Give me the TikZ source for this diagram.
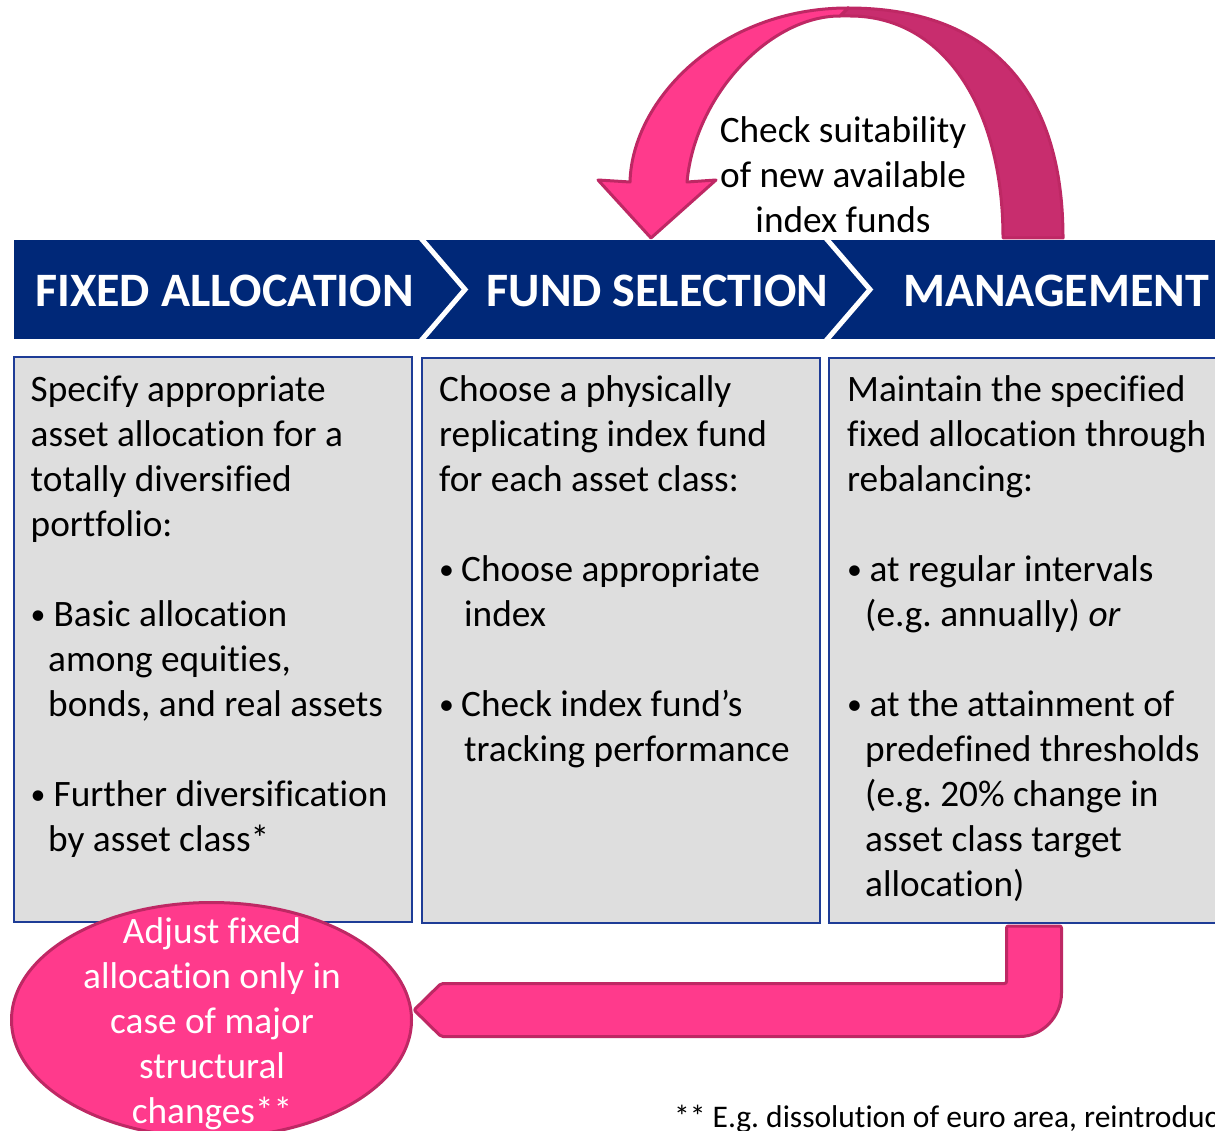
\documentclass[tikz,border=0pt]{standalone}
\usepackage{fontspec}
\usepackage{graphicx}
\setmainfont{Carlito}[Ligatures=CommonOff]
\usetikzlibrary{shapes.geometric}
\definecolor{navy}{RGB}{0,40,120}
\definecolor{boxgray}{RGB}{222,222,222}
\definecolor{boxline}{RGB}{30,60,150}
\definecolor{pinkfill}{RGB}{255,58,140}
\definecolor{pinkdark}{RGB}{200,45,110}
\definecolor{pinkline}{RGB}{190,40,100}
\newcommand\bodyfs{\fontsize{37.3}{45}\selectfont\frenchspacing}
\newcommand\titlefs{\fontsize{48}{58}\selectfont\bfseries}
\newcommand\notefs{\fontsize{31.5}{38}\selectfont\frenchspacing}
\newcommand\bul[1]{\makebox[#1][l]{\raisebox{1.5pt}{\scalebox{0.8}{•}}}}
\begin{document}
\begin{tikzpicture}[x=1pt,y=-1pt,
  panel/.style={draw=boxline, line width=2pt, fill=boxgray, inner sep=0pt, anchor=north west},
  bodytext/.style={anchor=base west, inner sep=0pt, font=\bodyfs, text=black},
  titletext/.style={anchor=base, inner sep=0pt, font=\titlefs, text=white},
  pinkshape/.style={fill=pinkfill, draw=pinkline, line width=3pt, line join=round},
  chevron/.style={draw=white, line width=5pt, line join=miter},
]
\useasboundingbox (0,0) rectangle (1215,1131);
\clip (0,0) rectangle (1215,1131);

% top curved arrow (back part, then front part)
\draw[pinkshape, fill=pinkdark] (1063,238) .. controls (1063,88) and (988,8) .. (848,8)
   -- (840,16) -- (850,16) .. controls (942,16) and (1003,105) .. (1003,238) -- cycle;
\draw[pinkshape] (848,8) .. controls (720,8) and (632,100) .. (630,182) -- (598,180)
   -- (651,238) -- (716,180) -- (687,182) .. controls (695,95) and (770,16) .. (840,16) -- cycle;
\node[anchor=base, inner sep=0pt, font=\bodyfs] (check) at (843,143)
   {\parbox[t]{300pt}{\centering Check suitability\\ of new available\\ index funds}};

% banner
\node[fill=navy, anchor=north west, minimum width=1220pt, minimum height=99pt, inner sep=0pt] (banner) at (14,240) {};
\draw[chevron] (419,236) -- (465,289.5) -- (419,343);
\draw[chevron] (824,236) -- (870,289.5) -- (824,343);
\node[titletext] (t1) at (224.5,307) {FIXED ALLOCATION};
\node[titletext] (t2) at (657.5,307) {FUND SELECTION};
\node[titletext] (t3) at (1056,307) {MANAGEMENT};

% boxes
\node[panel, minimum width=398pt, minimum height=565pt] (box1) at (13,356) {};
\node[panel, minimum width=398pt, minimum height=565pt] (box2) at (421,357) {};
\node[panel, minimum width=420pt, minimum height=565pt] (box3) at (828,357) {};

\node[bodytext] (x1) at (30.5,401) {\parbox[t]{380pt}{\raggedright
Specify appropriate\\
asset allocation for a\\
totally diversified\\
portfolio:\\[45pt]
\bul{23pt}Basic allocation\\
\hspace*{17.5pt}among equities,\\
\hspace*{17.5pt}bonds, and real assets\\[45pt]
\bul{23pt}Further diversification\\
\hspace*{17.5pt}by asset class*}};

\node[bodytext] (x2) at (439,401) {\parbox[t]{380pt}{\raggedright
Choose a physically\\
replicating index fund\\
for each asset class:\\[45pt]
\bul{22pt}Choose appropriate\\
\hspace*{25pt}index\\[45pt]
\bul{22pt}Check index fund’s\\
\hspace*{25pt}tracking performance}};

\node[bodytext] (x3) at (847,401) {\parbox[t]{380pt}{\raggedright
Maintain the specified\\
fixed allocation through\\
rebalancing:\\[45pt]
\bul{22.5pt}at regular intervals\\
\hspace*{18pt}(e.g. annually) \textit{or}\\[45pt]
\bul{22.5pt}at the attainment of\\
\hspace*{18pt}predefined thresholds\\
\hspace*{18pt}(e.g. 20\% change in\\
\hspace*{18pt}asset class target\\
\hspace*{18pt}allocation)}};

% bottom bent arrow
\draw[pinkshape, rounded corners=2pt] (1006.5,926) -- (1006.5,983.5) -- (441,983.5) -- (414,1010)
   -- (441,1036.5) -- (1018,1036.5) [sharp corners] arc[start angle=90, end angle=0, radius=43.5]
   [rounded corners=2pt] -- (1061.5,926) -- cycle;

% ellipse
\node[ellipse, pinkshape, minimum width=400pt, minimum height=235pt, inner sep=0pt] (adj) at (211.5,1020) {};
\node[anchor=base, inner sep=0pt, font=\bodyfs, text=white] (adjtext) at (212,943)
   {\parbox[t]{400pt}{\centering Adjust fixed\\ allocation only in\\ case of major\\ structural\\ changes**}};

% footnote
\node[anchor=base west, inner sep=0pt, font=\notefs] (note) at (674,1127) {** E.g. dissolution of euro area, reintroduc};
\end{tikzpicture}
\end{document}
